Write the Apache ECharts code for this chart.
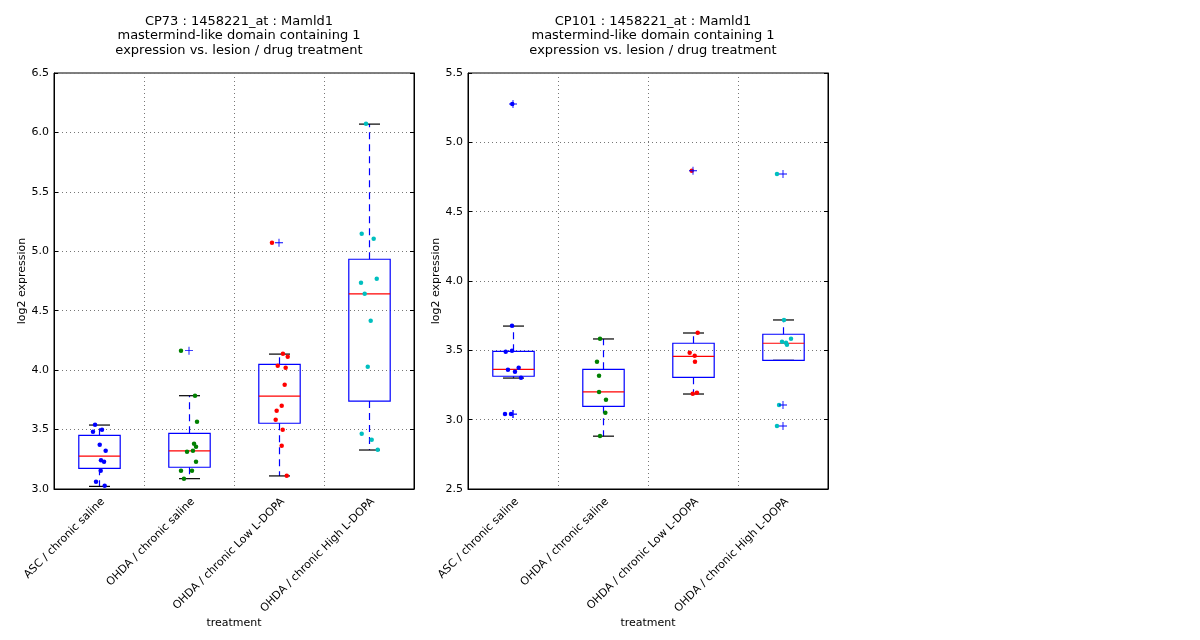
<!DOCTYPE html>
<html>
<head>
<meta charset="utf-8">
<script src="https://cdn.jsdelivr.net/npm/echarts@6/dist/echarts.min.js"></script>
<style>
  html, body { margin: 0; padding: 0; background: #fff; }
  #chart { width: 1200px; height: 640px; }
</style>
</head>
<body>
<div id="chart"></div>
<script>
var categories = ['ASC / chronic saline', 'OHDA / chronic saline', 'OHDA / chronic Low L-DOPA', 'OHDA / chronic High L-DOPA'];
var groupColors = ['#0000ff', '#008000', '#ff0000', '#00bfbf'];

var cp73Title = 'CP73 : 1458221_at : Mamld1\nmastermind-like domain containing 1\nexpression vs. lesion / drug treatment';
var cp101Title = 'CP101 : 1458221_at : Mamld1\nmastermind-like domain containing 1\nexpression vs. lesion / drug treatment';

// y axis ranges [min, max, step]
var cp73Range = [3.0, 6.5, 0.5];
var cp101Range = [2.5, 5.5, 0.5];

// expression values per group
var cp73Values = [
  [3.541, 3.482, 3.499, 3.373, 3.322, 3.241, 3.230, 3.154, 3.061, 3.028],
  [4.164, 3.785, 3.566, 3.381, 3.356, 3.314, 3.322, 3.230, 3.154, 3.154, 3.087],
  [5.072, 4.138, 4.113, 4.037, 4.021, 3.878, 3.701, 3.659, 3.583, 3.499, 3.364, 3.112],
  [6.073, 5.148, 5.106, 4.769, 4.736, 4.643, 4.416, 4.029, 3.465, 3.415, 3.331]
];
// horizontal jitter of each point (category units)
var cp73Jitter = [
  [-0.044, -0.067, 0.033, 0.008, 0.074, 0.022, 0.056, 0.019, -0.033, 0.063],
  [-0.089, 0.067, 0.089, 0.056, 0.078, -0.022, 0.044, 0.078, -0.089, 0.033, -0.056],
  [-0.078, 0.044, 0.097, -0.014, 0.074, 0.063, 0.030, -0.026, -0.037, 0.041, 0.030, 0.086],
  [-0.033, -0.081, 0.052, 0.086, -0.089, -0.048, 0.019, -0.014, -0.081, 0.030, 0.097]
];
// [low whisker, q1, median, q3, high whisker]
var cp73Boxes = [
  [3.022, 3.174, 3.276, 3.452, 3.538],
  [3.087, 3.183, 3.320, 3.468, 3.785],
  [3.110, 3.553, 3.782, 4.049, 4.135],
  [3.328, 3.740, 4.641, 4.933, 6.070]
];

var cp101Values = [
  [5.276, 3.678, 3.490, 3.497, 3.360, 3.375, 3.346, 3.303, 3.040, 3.040],
  [3.584, 3.418, 3.317, 3.200, 3.144, 3.050, 2.882],
  [4.795, 3.627, 3.483, 3.461, 3.418, 3.187, 3.194],
  [4.772, 3.719, 3.584, 3.562, 3.555, 3.541, 3.106, 2.954]
];
var cp101Jitter = [
  [-0.008, -0.011, -0.081, -0.011, -0.056, 0.063, 0.022, 0.089, -0.089, -0.022],
  [-0.033, -0.067, -0.044, -0.044, 0.033, 0.026, -0.033],
  [-0.014, 0.052, -0.037, 0.019, 0.022, -0.003, 0.044],
  [-0.067, 0.011, 0.089, -0.011, 0.033, 0.044, -0.044, -0.067]
];
var cp101Boxes = [
  [3.300, 3.313, 3.363, 3.493, 3.675],
  [2.881, 3.096, 3.200, 3.363, 3.582],
  [3.185, 3.305, 3.457, 3.551, 3.625],
  [3.428, 3.428, 3.551, 3.616, 3.719]
];

var font = 'DejaVu Sans';
var plusPath = 'path://M4,0h1v9h-1zM0,4h9v1h-9z';

function renderBox(params, api) {
  var i = api.value(0);
  var low = api.coord([i, api.value(1)]);
  var q1 = api.coord([i, api.value(2)]);
  var med = api.coord([i, api.value(3)]);
  var q3 = api.coord([i, api.value(4)]);
  var high = api.coord([i, api.value(5)]);
  var band = api.size([1, 0])[0];
  var hw = band * 0.23, cw = band * 0.117;
  var x = Math.round(low[0]) + 0.5;
  var dash = {stroke: '#0000ff', lineWidth: 1.2, lineDash: [7, 5]};
  var cap = {stroke: '#000', lineWidth: 1.2};
  return {
    type: 'group',
    children: [
      {type: 'line', shape: {x1: x, y1: q3[1], x2: x, y2: high[1]}, style: dash},
      {type: 'line', shape: {x1: x, y1: q1[1], x2: x, y2: low[1]}, style: dash},
      {type: 'line', shape: {x1: x - cw, y1: high[1], x2: x + cw, y2: high[1]}, style: cap},
      {type: 'line', shape: {x1: x - cw, y1: low[1], x2: x + cw, y2: low[1]}, style: cap},
      {type: 'rect', shape: {x: x - hw, y: q3[1], width: hw * 2, height: q1[1] - q3[1]},
        style: {fill: 'none', stroke: '#0000ff', lineWidth: 1.2}},
      {type: 'line', shape: {x1: x - hw, y1: med[1], x2: x + hw, y2: med[1]},
        style: {stroke: '#ff0000', lineWidth: 1.2}}
    ]
  };
}

function buildPanel(p, left, title, range, values, jitter, boxes) {
  var xa = [
    {
      type: 'category', gridIndex: p, data: categories, position: 'bottom',
      axisLine: {show: true, onZero: false, lineStyle: {color: '#000'}},
      axisTick: {show: false},
      splitLine: {show: true, lineStyle: {color: '#777', type: [1, 3], width: 1}},
      axisLabel: {interval: 0, rotate: 45, margin: 7, verticalAlign: 'top',
        color: '#000', fontFamily: font, fontSize: 11},
      name: 'treatment', nameLocation: 'middle', nameGap: 129, nameMoveOverlap: false,
      nameTextStyle: {color: '#000', fontFamily: font, fontSize: 11}
    },
    {
      type: 'value', gridIndex: p, min: -0.5, max: 3.5, show: false
    }
  ];
  var ya = [
    {
      type: 'value', gridIndex: p, min: range[0], max: range[1], interval: range[2],
      axisLine: {show: true, onZero: false, lineStyle: {color: '#000'}},
      axisTick: {show: true, inside: true, length: 4, lineStyle: {color: '#000'}},
      splitLine: {show: true, lineStyle: {color: '#777', type: [1, 3], width: 1}},
      axisLabel: {color: '#000', fontFamily: font, fontSize: 11, margin: 5,
        formatter: function (v) { return v.toFixed(1); }},
      name: 'log2 expression', nameLocation: 'middle', nameGap: 26, nameRotate: 90,
      nameTextStyle: {color: '#000', fontFamily: font, fontSize: 11}
    },
    {
      type: 'value', gridIndex: p, position: 'right', min: range[0], max: range[1], interval: range[2],
      axisLine: {show: true, onZero: false, lineStyle: {color: '#000'}},
      axisTick: {show: true, inside: true, length: 4, lineStyle: {color: '#000'}},
      axisLabel: {show: false}, splitLine: {show: false}
    }
  ];
  var xCat = p * 2, xVal = p * 2 + 1, yL = p * 2;
  var series = [];
  series.push({
    type: 'custom', xAxisIndex: xCat, yAxisIndex: yL, z: 2,
    renderItem: renderBox,
    encode: {x: 0, y: [1, 2, 3, 4, 5]},
    data: boxes.map(function (b, i) { return [i].concat(b); })
  });
  var fliers = [];
  values.forEach(function (vals, g) {
    series.push({
      type: 'scatter', xAxisIndex: xVal, yAxisIndex: yL, z: 3,
      symbolSize: 4.5, itemStyle: {color: groupColors[g], opacity: 1},
      data: vals.map(function (v, k) { return [g + jitter[g][k], v]; })
    });
    vals.forEach(function (v) {
      if (v < boxes[g][0] - 0.02 || v > boxes[g][4] + 0.02) fliers.push([g, v]);
    });
  });
  series.push({
    type: 'scatter', xAxisIndex: xVal, yAxisIndex: yL, z: 4,
    symbol: plusPath, symbolSize: 8, itemStyle: {color: '#0000ff', opacity: 1},
    data: fliers
  });
  return {
    grid: {left: left, top: 73, width: 360, height: 416, show: true, borderColor: '#000', borderWidth: 1, backgroundColor: '#fff'},
    title: {
      text: title, left: left + 180, top: 9, textAlign: 'center',
      textStyle: {fontFamily: font, fontSize: 13, fontWeight: 'normal', color: '#000', lineHeight: 14.5}
    },
    xAxis: xa, yAxis: ya, series: series
  };
}

var chart = echarts.init(document.getElementById('chart'));
var a = buildPanel(0, 54, cp73Title, cp73Range, cp73Values, cp73Jitter, cp73Boxes);
var b = buildPanel(1, 468, cp101Title, cp101Range, cp101Values, cp101Jitter, cp101Boxes);
chart.setOption({
  animation: false,
  backgroundColor: '#fff',
  title: [a.title, b.title],
  grid: [a.grid, b.grid],
  xAxis: a.xAxis.concat(b.xAxis),
  yAxis: a.yAxis.concat(b.yAxis),
  series: a.series.concat(b.series)
});
window.addEventListener('resize', function () { chart.resize(); });
</script>
</body>
</html>
